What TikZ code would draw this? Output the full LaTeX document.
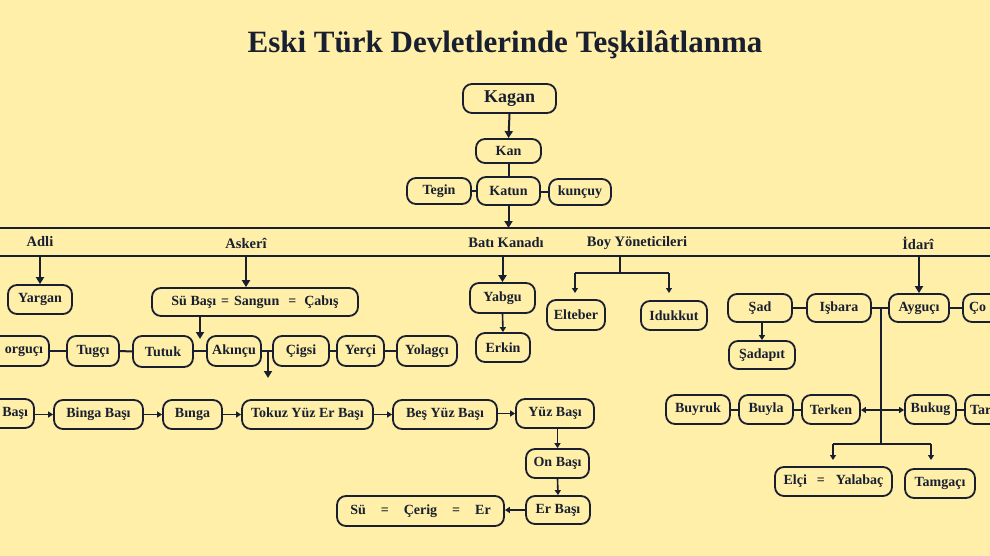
\documentclass[tikz,border=0pt]{standalone}
\usepackage{fontspec}
\setmainfont{Liberation Serif}
\usetikzlibrary{arrows.meta}
\definecolor{bg}{RGB}{255,239,168}
\definecolor{ln}{RGB}{24,31,48}
\tikzset{
  box/.style={draw=ln, line width=1.8pt, rounded corners=9pt, inner sep=0pt,
    text=ln, font=\fontsize{14}{16}\selectfont\bfseries},
  lbl/.style={text=ln, font=\fontsize{14.5}{16}\selectfont\bfseries, inner sep=0pt},
  con/.style={draw=ln, line width=2pt},
  arr/.style={draw=ln, line width=2pt, -{Triangle[length=7pt,width=8pt]}},
  sarr/.style={draw=ln, line width=1.6pt, -{Triangle[length=5pt,width=6pt]}},
}
\newcommand{\bxn}[7][]{\node[box,#1,minimum width={#5-#3},minimum height={#6-#4}] (#2) at ({(#3+#5)/2},{(#4+#6)/2}) {#7};}
\begin{document}
\begin{tikzpicture}[x=1pt,y=-1pt]
\useasboundingbox (0,0) rectangle (990,556);
\fill[bg] (0,0) rectangle (990,556);
\clip (0,0) rectangle (990,556);

% title
\node[text=ln, font=\fontsize{31}{34}\selectfont\bfseries, inner sep=0pt] (title) at (505,45) {Eski Türk Devletlerinde Teşkilâtlanma};

% top
\bxn[font=\fontsize{18}{20}\selectfont\bfseries]{kagan}{463}{84}{556}{113}{Kagan}
\bxn{kan}{476}{139}{541}{163}{Kan}
\bxn{katun}{477}{177}{540}{205}{Katun}
\bxn{tegin}{407}{178}{471}{204}{Tegin}
\bxn{kuncuy}{549}{179}{611}{205}{kunçuy}
\draw[arr] (kagan.south) -- (kan.north);
\draw[con] (kan.south -| katun.north) -- (katun.north);
\draw[con] (tegin.east) -- (tegin.east -| katun.west);
\draw[con] (kuncuy.west -| katun.east) -- (kuncuy.west);

% band
\coordinate (l1) at (-5,228); \coordinate (r1) at (995,228);
\coordinate (l2) at (-5,256); \coordinate (r2) at (995,256);
\draw[con] (l1) -- (r1);
\draw[con] (l2) -- (r2);
\draw[arr] (katun.south) -- (katun.south |- l1);

\node[lbl] (adli) at (40,242) {Adli};
\node[lbl] (askeri) at (246,243) {Askerî};
\node[lbl] (bati) at (506,243) {Batı Kanadı};
\node[lbl] (boy) at (637,243) {Boy Yöneticileri};
\node[lbl] (idari) at (918,243) {İdarî};

% Adli
\bxn{yargan}{8}{285}{72}{314}{Yargan}
\coordinate (a1) at (40,256);
\draw[arr] (a1) -- (yargan.north);

% Askeri
\bxn{subasi}{152}{288}{358}{316}{Sü Başı\hspace{5pt}=\hspace{5pt}Sangun\hspace{9pt}=\hspace{8pt}Çabış}
\coordinate (a2) at (246,256);
\draw[arr] (a2) -- (a2 |- subasi.north);

\bxn[text width=78pt, align=right, inner xsep=6pt]{yorg}{-41}{336}{49}{366}{orguçı}
\bxn{tugci}{67}{336}{119}{366}{Tugçı}
\bxn{tutuk}{133}{336}{193}{367}{Tutuk}
\bxn{akincu}{207}{336}{261}{366}{Akınçu}
\bxn{cigsi}{273}{336}{329}{366}{Çigsi}
\bxn{yerci}{337}{336}{384}{366}{Yerçi}
\bxn{yolagci}{397}{336}{457}{366}{Yolagçı}
\draw[con] (yorg.east) -- (tugci.west);
\draw[con] (tugci.east) -- (tutuk.west -| tutuk.west);
\draw[con] (tutuk.east |- akincu.west) -- (akincu.west);
\draw[con] (akincu.east) -- (cigsi.west);
\draw[con] (cigsi.east) -- (yerci.west);
\draw[con] (yerci.east) -- (yolagci.west);
\coordinate (t1) at (200,339);
\draw[arr] (t1 |- subasi.south) -- (t1);
\coordinate (t2) at (268,351);
\coordinate (t3) at (268,378);
\draw[arr] (t2) -- (t3);

% row 3
\bxn[text width=73pt, align=right, inner xsep=6pt]{basi}{-51}{399}{34}{428}{Başı}
\bxn{bingabasi}{54}{400}{143}{429}{Binga Başı}
\bxn{binga}{163}{400}{222}{429}{Bınga}
\bxn{tokuz}{242}{400}{373}{429}{Tokuz Yüz Er Başı}
\bxn{besyuz}{393}{400}{497}{429}{Beş Yüz Başı}
\bxn{yuzbasi}{516}{399}{594}{428}{Yüz Başı}
\bxn{onbasi}{526}{449}{589}{478}{On Başı}
\bxn{erbasi}{526}{496}{590}{524}{Er Başı}
\bxn{su}{337}{496}{504}{526}{Sü\hspace{15pt}=\hspace{15pt}Çerig\hspace{15pt}=\hspace{15pt}Er}
\draw[sarr] (basi.east |- bingabasi.west) -- (bingabasi.west);
\draw[sarr] (bingabasi.east) -- (binga.west);
\draw[sarr] (binga.east) -- (tokuz.west);
\draw[sarr] (tokuz.east) -- (besyuz.west);
\draw[sarr] (besyuz.east |- yuzbasi.west) -- (yuzbasi.west);
\draw[sarr] (yuzbasi.south -| onbasi.north) -- (onbasi.north);
\draw[sarr] (onbasi.south) -- (erbasi.north);
\draw[sarr] (erbasi.west) -- (erbasi.west -| su.east);

% Bati Kanadi
\bxn{yabgu}{470}{283}{535}{313}{Yabgu}
\bxn{erkin}{476}{333}{530}{362}{Erkin}
\coordinate (a3) at (502.5,256);
\draw[arr] (a3) -- (yabgu.north);
\draw[sarr] (yabgu.south) -- (erkin.north);

% Boy Yoneticileri
\bxn{elteber}{547}{300}{605}{330}{Elteber}
\bxn{idukkut}{641}{301}{707}{330}{Idukkut}
\coordinate (b0) at (620,256);
\coordinate (b1) at (620,273);
\coordinate (b2) at (575,273);
\coordinate (b3) at (669,273);
\coordinate (b4) at (575,293);
\coordinate (b5) at (669,293);
\draw[con] (b0) -- (b1);
\draw[con] (b2) -- (b3);
\draw[sarr] (b2) -- (b4);
\draw[sarr] (b3) -- (b5);

% Idari
\bxn{sad}{728}{294}{792}{322}{Şad}
\bxn{isbara}{807}{294}{871}{322}{Işbara}
\bxn{aygucu}{889}{294}{949}{322}{Ayguçı}
\bxn[text width=65pt, align=left, inner xsep=6pt]{co}{963}{294}{1040}{322}{Ço}
\bxn{sadapit}{729}{341}{795}{369}{Şadapıt}
\coordinate (a4) at (919,257);
\draw[arr] (a4) -- (aygucu.north);
\draw[con] (sad.east) -- (isbara.west);
\draw[con] (isbara.east) -- (aygucu.west);
\draw[con] (aygucu.east) -- (co.west);
\draw[sarr] (sadapit.north |- sad.south) -- (sadapit.north);

\coordinate (j1) at (881,308);
\coordinate (j2) at (881,444);
\coordinate (j3) at (881,410);
\draw[con] (j1) -- (j2);

\bxn{buyruk}{666}{395}{730}{424}{Buyruk}
\bxn{buyla}{739}{395}{793}{424}{Buyla}
\bxn{terken}{802}{395}{860}{424}{Terken}
\bxn{bukug}{905}{395}{956}{424}{Bukug}
\bxn[text width=65pt, align=left, inner xsep=4pt]{tar}{965}{395}{1040}{424}{Tar}
\draw[con] (buyruk.east) -- (buyla.west);
\draw[con] (buyla.east) -- (terken.west);
\draw[con] (bukug.east) -- (tar.west);
\draw[sarr] (j3) -- (j3 -| terken.east);
\draw[sarr] (j3) -- (j3 -| bukug.west);

\bxn{elci}{775}{467}{892}{496}{Elçi\hspace{10pt}=\hspace{11pt}Yalabaç}
\bxn{tamgaci}{905}{469}{975}{498}{Tamgaçı}
\coordinate (e1) at (833,444);
\coordinate (e2) at (931,444);
\coordinate (e3) at (833,460);
\coordinate (e4) at (931,460);
\draw[con] (e1) -- (e2);
\draw[sarr] (e1) -- (e3);
\draw[sarr] (e2) -- (e4);
\end{tikzpicture}
\end{document}
